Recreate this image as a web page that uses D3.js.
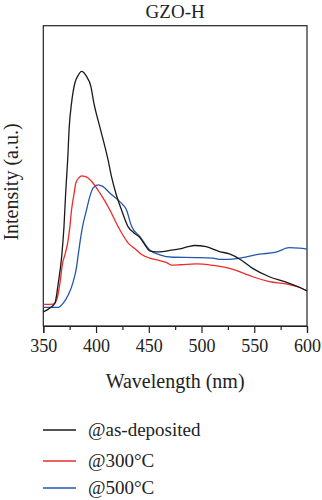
<!DOCTYPE html>
<html><head><meta charset="utf-8">
<script src="https://cdn.jsdelivr.net/npm/d3@7"></script>
<style>html,body{margin:0;padding:0;background:#fff}svg{display:block}</style>
</head><body><svg id="c" width="322" height="500"></svg>
<script>
const title = "GZO-H";
const xLabel = "Wavelength (nm)";
const yLabel = "Intensity (a.u.)";
const xTicks = [350, 400, 450, 500, 550, 600];
const xMinorTicks = [375, 425, 475, 525, 575];
const seriesNames = ["@as-deposited", "@300°C", "@500°C"];
const seriesColors = ["#1a1a1a", "#ee2a2a", "#2456b0"];

const asDeposited = [
  [350,4.7],[356.3,6.0],[361.1,7.7],[364.2,14.3],[367.4,23.0],[369.6,33],[371.2,44.3],[373.1,55.3],
  [374.6,66.3],[376.8,74.3],[380,81],[382.8,83.3],[386.3,84.8],[391,83.1],[395.1,79.8],[397.9,74.3],
  [403.6,66.3],[411.4,55.3],[414.6,49.8],[418.7,44.3],[424.1,38.7],[430.3,33.1],[436,31],[441.4,29.5],
  [446,27.2],[450.9,25],[457,24.7],[463.1,24.8],[470,25.2],[479.2,25.7],[487,26.4],[493.4,26.8],[504.4,26.4],
  [517,24.8],[526.5,24],[537.5,22],[548.5,19.2],[564.3,16.4],[580.1,14.6],[598.3,12],[600,11.7]
];
const at300 = [
  [350,7.2],[359.5,7.3],[362.7,8.7],[365.8,14.3],[368.3,21],[370.5,23.7],[373.1,27.7],[375.2,33],
  [376.8,38.7],[379.3,44.3],[380.9,47.7],[383.7,49.3],[386.5,50],[389.4,49.8],[392.5,49.3],[395.7,48.2],[403.6,44.3],
  [413,38.7],[420.9,33.1],[430.3,27.7],[436.9,25.7],[442.5,24],[450.9,22.6],[460.3,21.8],[466.6,21.2],
  [471.4,20.3],[480,20.4],[495,20.7],[510.7,20.2],[526.5,19.2],[535.9,18.1],[548.5,16.4],[564.3,14.8],
  [580.1,14],[592.6,12.9],[600,11.7]
];
const at500 = [
  [350,6.2],[364.2,6.2],[368.9,7.6],[373.6,10.3],[378.4,14.8],[381.6,19.8],[383.1,23.7],[384.7,27.7],
  [387.2,33.1],[391,38.7],[394.1,43.1],[397.3,46],[402,47],[406.7,46.4],[413,44.3],[422.5,41.4],
  [428.8,38.7],[433.6,33.3],[441.4,29.8],[450.9,25.3],[460.3,23.7],[472.9,22.9],[495,22.8],[510.7,22.6],
  [517,22.2],[526.5,22.2],[535.9,22.6],[554.8,23.9],[570.6,24.6],[583.2,26.1],[592.6,25.9],[600,25.6]
];
const allSeries = [asDeposited, at300, at500];

const svg = d3.select("#c");
const L = 43.3, R = 307, T = 25.7, B = 326;
const x = d3.scaleLinear().domain([350, 600]).range([L, R]);
const y = d3.scaleLinear().domain([0, 100]).range([B, T]);
const font = "'Liberation Serif', 'Times New Roman', serif";

svg.append("text").attr("x", (L + R) / 2).attr("y", 17.5).attr("text-anchor", "middle")
  .attr("font-family", font).attr("font-size", 19).attr("fill", "#222").text(title);

// frame
svg.append("rect").attr("x", L).attr("y", T).attr("width", R - L).attr("height", B - T)
  .attr("fill", "none").attr("stroke", "#222").attr("stroke-width", 1.2);

// x axis
const ax = svg.append("g").attr("transform", `translate(0,${B})`)
  .call(d3.axisBottom(x).tickValues(xTicks).tickSize(7).tickPadding(6).tickFormat(d3.format("d")));
ax.select(".domain").attr("stroke", "#222").attr("stroke-width", 1.2);
ax.selectAll(".tick line").attr("stroke", "#222").attr("stroke-width", 1.2);
ax.selectAll("text").attr("font-family", font).attr("font-size", 18).attr("fill", "#222");
const axm = svg.append("g").attr("transform", `translate(0,${B})`)
  .call(d3.axisBottom(x).tickValues(xMinorTicks).tickSize(4).tickFormat(""));
axm.select(".domain").remove();
axm.selectAll(".tick line").attr("stroke", "#222").attr("stroke-width", 1.2);

svg.append("text").attr("x", (L + R) / 2).attr("y", 388).attr("text-anchor", "middle")
  .attr("font-family", font).attr("font-size", 20).attr("fill", "#222").text(xLabel);
svg.append("text").attr("transform", "translate(18,182) rotate(-90)").attr("text-anchor", "middle")
  .attr("font-family", font).attr("font-size", 20).attr("fill", "#222").text(yLabel);

const line = d3.line().x(d => x(d[0])).y(d => y(d[1])).curve(d3.curveMonotoneX);
const order = [2, 1, 0];
order.forEach(i => {
  svg.append("path").datum(allSeries[i]).attr("d", line).attr("fill", "none")
    .attr("stroke", seriesColors[i]).attr("stroke-width", 1.3);
});

// legend
const legY = [430, 461, 488];
seriesNames.forEach((n, i) => {
  svg.append("line").attr("x1", 43).attr("x2", 76).attr("y1", legY[i]).attr("y2", legY[i])
    .attr("stroke", seriesColors[i]).attr("stroke-width", 1.3);
  svg.append("text").attr("x", 88).attr("y", legY[i] + 6).attr("font-family", font)
    .attr("font-size", 19).attr("fill", "#222").text(n);
});
</script></body></html>
